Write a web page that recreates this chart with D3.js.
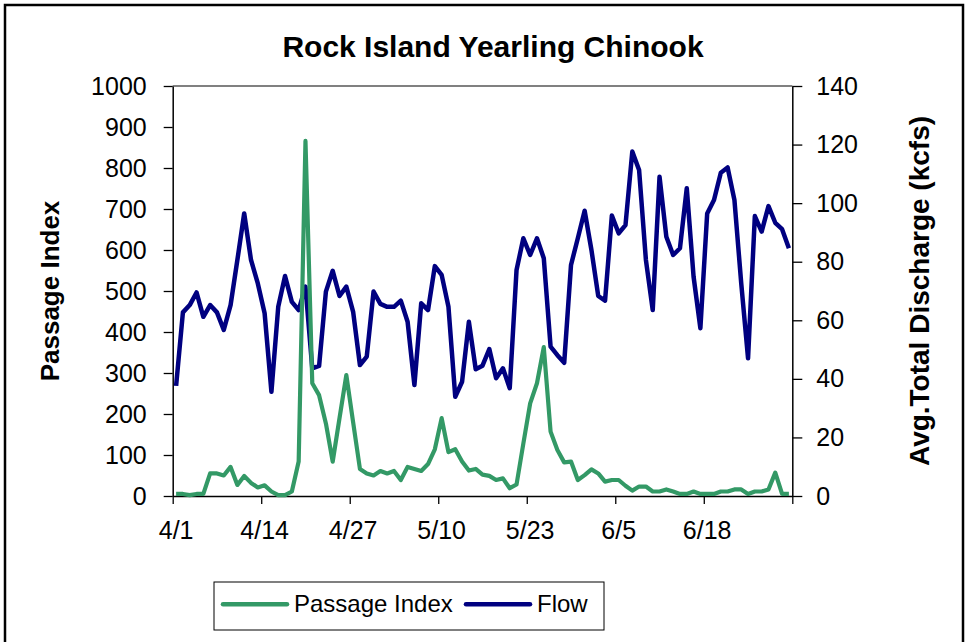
<!DOCTYPE html>
<html>
<head>
<meta charset="utf-8">
<script src="https://cdn.jsdelivr.net/npm/d3@7"></script>
<style>
  body { margin: 0; background: #fff; }
  svg { font-family: "Liberation Sans", Arial, sans-serif; }
</style>
</head>
<body>
<div id="chart"></div>
<script>
// daily dates 4/1 .. 6/30
let dates = [];
for (let m of [[4, 30], [5, 31], [6, 30]]) {
    for (let d = 1; d <= m[1]; d++) dates.push(m[0] + "/" + d);
}

// passage index (left axis)
let passage = [5, 5, 2, 5, 5, 55, 55, 50, 71, 27,
    49, 32, 21, 26, 11, 2, 2, 11, 84, 866,
    275, 246, 177, 84, 190, 295, 180, 66, 55, 50,
    61, 55, 61, 39, 71, 66, 61, 78, 114, 190,
    107, 114, 84, 62, 66, 52, 49, 39, 43, 19,
    28, 128, 226, 275, 363, 157, 112, 82, 84, 39,
    51, 65, 55, 35, 39, 39, 25, 13, 23, 23,
    11, 11, 16, 11, 5, 5, 11, 5, 5, 5,
    11, 11, 16, 16, 5, 11, 11, 16, 57, 5, 5];

// avg total discharge, kcfs (right axis)
let flow = [37.6, 62.7, 65.2, 69.5, 61.2, 65.2, 62.7, 56.7, 65.2, 80.6,
    96.5, 80.6, 72.6, 62.4, 35.6, 64.6, 75.1, 66.3, 63.5, 71.5,
    43.6, 44.4, 69.8, 76.9, 68.3, 71.5, 62.9, 44.7, 47.6, 69.8,
    65.6, 64.6, 64.6, 66.7, 59.5, 37.9, 65.8, 63.5, 78.5, 75.5,
    64.6, 33.9, 39.0, 59.5, 43.3, 44.5, 50.2, 40.2, 43.6, 36.8,
    77.2, 88.0, 82.3, 88.0, 81.2, 51.0, 48.1, 45.5, 78.9, 88.0,
    97.4, 84.0, 68.3, 66.7, 95.8, 89.7, 92.5, 117.6, 111.3, 80.6,
    63.5, 109.0, 88.5, 82.3, 84.6, 105.1, 74.9, 57.3, 96.5, 101.1,
    110.4, 112.2, 101.1, 72.6, 47.0, 95.6, 90.3, 99.0, 93.3, 91.1, 84.6];

let xLabels = ["4/1", "4/14", "4/27", "5/10", "5/23", "6/5", "6/18"];
let leftTicks = d3.range(0, 1001, 100);
let rightTicks = d3.range(0, 141, 20);

let width = 968, height = 642;
let plot = { left: 172.7, right: 792.3, top: 86, bottom: 496 };

let svg = d3.select("#chart").append("svg")
    .attr("width", width)
    .attr("height", height);

// outer frame
svg.append("rect")
    .attr("x", 5).attr("y", 5)
    .attr("width", 958).attr("height", 660)
    .attr("fill", "#fff")
    .attr("stroke", "#000")
    .attr("stroke-width", 2.5);

// scales
let xBand = d3.scaleBand().domain(dates).range([plot.left, plot.right]).padding(0);
let xIdx = d3.scaleLinear().domain([0, dates.length]).range([plot.left, plot.right]);
let yLeft = d3.scaleLinear().domain([0, 1000]).range([plot.bottom, plot.top]);
let yRight = d3.scaleLinear().domain([0, 140]).range([plot.bottom, plot.top]);
let xPos = (d) => xBand(d) + xBand.bandwidth() / 2;

// top border of plot area
svg.append("line")
    .attr("x1", plot.left).attr("x2", plot.right)
    .attr("y1", plot.top).attr("y2", plot.top)
    .attr("stroke", "#808080").attr("stroke-width", 2);

function styleAxis(g) {
    g.select(".domain").attr("stroke", "#000").attr("stroke-width", 1.5);
    g.selectAll(".tick line").attr("stroke", "#000").attr("stroke-width", 1.3);
    g.selectAll("text").attr("fill", "#000").attr("font-size", 25);
}

// left axis
svg.append("g")
    .attr("transform", `translate(${plot.left},0)`)
    .call(d3.axisLeft(yLeft).tickValues(leftTicks).tickFormat(d3.format("d"))
        .tickSize(9).tickSizeOuter(0).tickPadding(17))
    .call(styleAxis);

// right axis
svg.append("g")
    .attr("transform", `translate(${plot.right},0)`)
    .call(d3.axisRight(yRight).tickValues(rightTicks).tickSize(10).tickSizeOuter(0).tickPadding(14))
    .call(styleAxis);

// x tick marks between categories, every 13 days
svg.append("g")
    .attr("transform", `translate(0,${plot.bottom})`)
    .call(d3.axisBottom(xIdx).tickValues(d3.range(0, dates.length + 1, 13)).tickSize(8).tickSizeOuter(0).tickFormat(""))
    .call(styleAxis);

// x labels centered on categories
svg.append("g")
    .attr("transform", `translate(0,${plot.bottom})`)
    .call(d3.axisBottom(xBand).tickValues(xLabels).tickSize(0).tickPadding(25))
    .call(styleAxis)
    .call(g => g.select(".domain").remove());

// lines
let passLine = d3.line().x((d, i) => xPos(dates[i])).y(d => yLeft(d));
let flowLine = d3.line().x((d, i) => xPos(dates[i])).y(d => yRight(d));

svg.append("path")
    .datum(flow)
    .attr("d", flowLine)
    .attr("fill", "none")
    .attr("stroke", "#000080")
    .attr("stroke-width", 4.5)
    .attr("stroke-linejoin", "round");

svg.append("path")
    .datum(passage)
    .attr("d", passLine)
    .attr("fill", "none")
    .attr("stroke", "#339966")
    .attr("stroke-width", 4.2)
    .attr("stroke-linejoin", "round");

// title
svg.append("text")
    .attr("x", 493).attr("y", 57)
    .attr("text-anchor", "middle")
    .attr("font-size", 30)
    .attr("font-weight", "bold")
    .text("Rock Island Yearling Chinook");

// axis titles
svg.append("text")
    .attr("transform", "translate(59,291) rotate(-90)")
    .attr("text-anchor", "middle")
    .attr("font-size", 26)
    .attr("font-weight", "bold")
    .text("Passage Index");

svg.append("text")
    .attr("transform", "translate(929,291) rotate(-90)")
    .attr("text-anchor", "middle")
    .attr("font-size", 28)
    .attr("font-weight", "bold")
    .text("Avg.Total Discharge (kcfs)");

// legend
let legend = svg.append("g");
legend.append("rect")
    .attr("x", 214).attr("y", 582)
    .attr("width", 390).attr("height", 48)
    .attr("fill", "#fff")
    .attr("stroke", "#000")
    .attr("stroke-width", 1);

let legendItems = [
    { name: "Passage Index", color: "#339966", x: 223 },
    { name: "Flow", color: "#000080", x: 466 }
];
legendItems.forEach(function(d) {
    legend.append("line")
        .attr("x1", d.x).attr("x2", d.x + 64)
        .attr("y1", 604.3).attr("y2", 604.3)
        .attr("stroke", d.color)
        .attr("stroke-width", 4.5)
        .attr("stroke-linecap", "round");
    legend.append("text")
        .attr("x", d.x + 71).attr("y", 612)
        .attr("font-size", 24)
        .text(d.name);
});
</script>
</body>
</html>
